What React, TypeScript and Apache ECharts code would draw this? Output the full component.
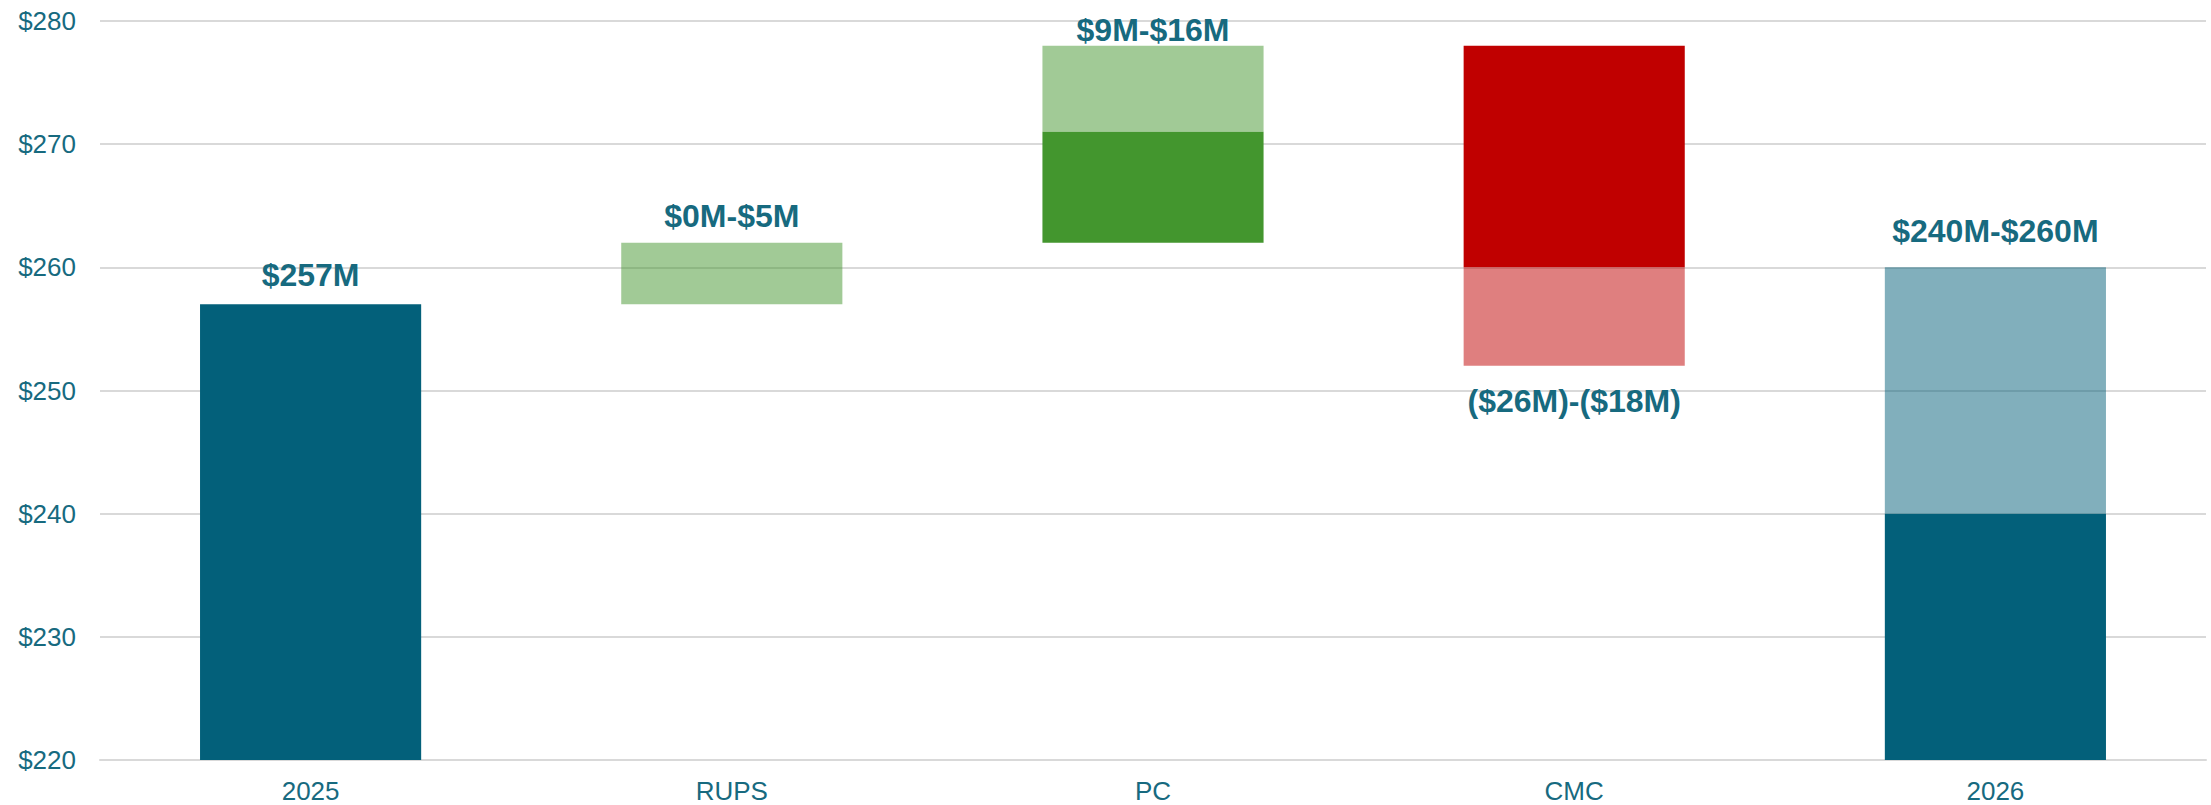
import React, { useEffect, useRef } from "react";
import * as echarts from "echarts";

const categories = ["2025", "RUPS", "PC", "CMC", "2026"];
// invisible offset under each stacked column
const baseValues = [0, 257, 262, 252, 0];
// first visible segment (bottom)
const lowerSegment = [257, 5, 9, 8, 240];
// second visible segment (top)
const upperSegment: (number | string)[] = ["-", "-", 7, 18, 20];
const labelTexts = ["$257M", "$0M-$5M", "$9M-$16M", "($26M)-($18M)", "$240M-$260M"];
const yTicks = { min: 220, max: 280, interval: 10 };

const TEAL = "#03607A";
const TEAL_LIGHT = "rgba(3,96,122,0.5)";
const GREEN = "#43962E";
const GREEN_LIGHT = "rgba(67,150,46,0.5)";
const RED = "#C00000";
const RED_LIGHT = "rgba(192,0,0,0.5)";
const TEXT = "#176A7F";
const FONT = "'Liberation Sans', Arial, sans-serif";

export default function App() {
  const ref = useRef<HTMLDivElement>(null);
  useEffect(() => {
    if (!ref.current) return;
    const chart = echarts.init(ref.current, null, { renderer: "svg" });
    const labelBase = {
      show: true,
      color: TEXT,
      fontSize: 32,
      fontWeight: "bold" as const,
      fontFamily: FONT,
    };
    const lowerColors = [TEAL, GREEN_LIGHT, GREEN, RED_LIGHT, TEAL];
    const upperColors = [null, null, GREEN_LIGHT, RED, TEAL_LIGHT];
    const lowerData = lowerSegment.map((v, i) => {
      const item: any = { value: v, itemStyle: { color: lowerColors[i] } };
      if (i === 0) item.label = { ...labelBase, position: "top", distance: 13, formatter: labelTexts[i] };
      if (i === 1) item.label = { ...labelBase, position: "top", distance: 11, formatter: labelTexts[i] };
      if (i === 3) item.label = { ...labelBase, position: "bottom", distance: 19, formatter: labelTexts[i] };
      return item;
    });
    const upperData = upperSegment.map((v, i) => {
      if (v === "-") return "-";
      const item: any = { value: v, itemStyle: { color: upperColors[i] } };
      if (i === 2) item.label = { ...labelBase, position: "top", distance: 0, formatter: labelTexts[i] };
      if (i === 4) item.label = { ...labelBase, position: "top", distance: 20, formatter: labelTexts[i] };
      return item;
    });
    chart.setOption({
      animation: false,
      backgroundColor: "#ffffff",
      grid: { left: 100, right: 5, top: 21, bottom: 45, containLabel: false },
      xAxis: {
        type: "category",
        data: categories,
        axisLine: { show: true, lineStyle: { color: "#d9d9d9", width: 2 } },
        axisTick: { show: false },
        axisLabel: { color: TEXT, fontSize: 26, fontFamily: FONT, margin: 18 },
      },
      yAxis: {
        type: "value",
        min: yTicks.min,
        max: yTicks.max,
        interval: yTicks.interval,
        axisLine: { show: false },
        axisTick: { show: false },
        splitLine: { lineStyle: { color: "#d9d9d9", width: 2 } },
        axisLabel: {
          color: TEXT,
          fontSize: 26,
          fontFamily: FONT,
          margin: 24,
          formatter: (v: number) => "$" + v,
        },
      },
      series: [
        {
          type: "bar",
          stack: "w",
          barWidth: "52.5%",
          data: baseValues,
          itemStyle: { color: "transparent" },
          silent: true,
        },
        { type: "bar", stack: "w", barWidth: "52.5%", data: lowerData },
        { type: "bar", stack: "w", barWidth: "52.5%", data: upperData },
      ],
    });
    return () => chart.dispose();
  }, []);
  return (
    <div
      ref={ref}
      style={{ position: "fixed", left: 0, top: 0, width: 2211, height: 805, background: "#fff" }}
    />
  );
}
